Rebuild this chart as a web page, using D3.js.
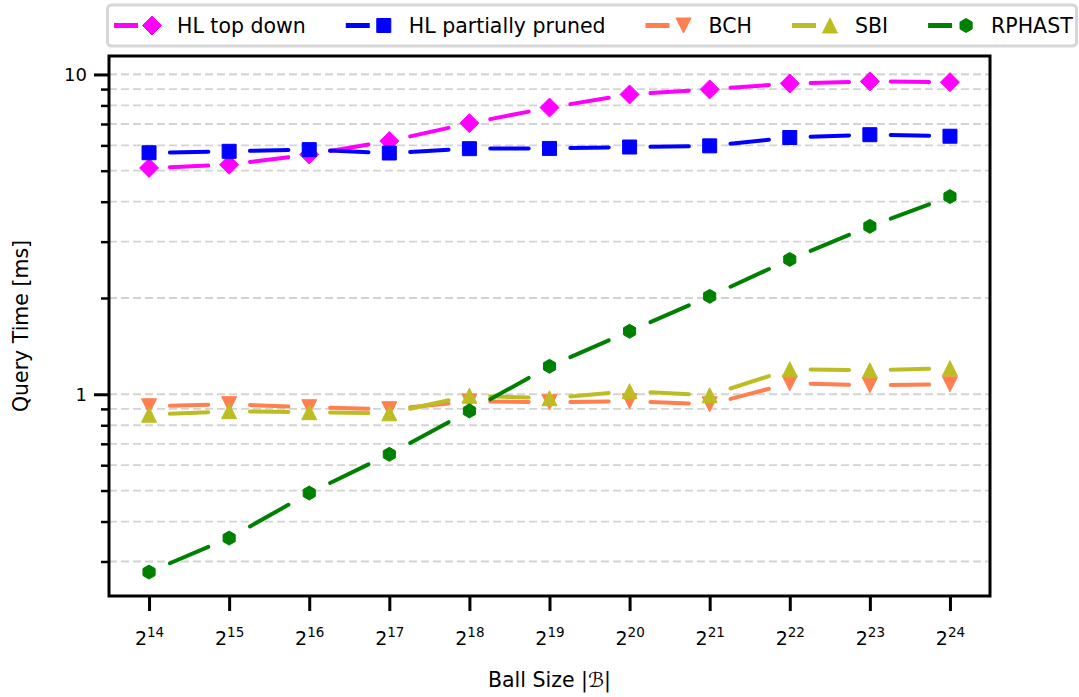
<!DOCTYPE html>
<html>
<head>
<meta charset="utf-8">
<script src="https://cdn.jsdelivr.net/npm/d3@7"></script>
<style>
  body { margin: 0; background: #fff; }
  text { font-family: "DejaVu Sans", sans-serif; fill: #000; }
</style>
</head>
<body>
<svg id="chart" width="1079" height="697"></svg>
<script>
// data (ball size = 2^exponent, query time in ms)
const exponents = [14, 15, 16, 17, 18, 19, 20, 21, 22, 23, 24]
const hlTopDown = [5.10, 5.22, 5.62, 6.19, 7.04, 7.88, 8.66, 8.98, 9.37, 9.51, 9.46]
const hlPartiallyPruned = [5.69, 5.75, 5.82, 5.68, 5.86, 5.87, 5.93, 5.98, 6.35, 6.48, 6.41]
const bch = [0.917, 0.931, 0.911, 0.898, 0.95, 0.944, 0.951, 0.93, 1.082, 1.067, 1.075]
const sbi = [0.863, 0.885, 0.879, 0.872, 0.99, 0.972, 1.022, 0.993, 1.197, 1.188, 1.206]
const rphast = [0.278, 0.355, 0.491, 0.649, 0.887, 1.223, 1.574, 2.024, 2.64, 3.35, 4.15]
const seriesNames = ['HL top down', 'HL partially pruned', 'BCH', 'SBI', 'RPHAST']
const yTickValues = [1, 10]

const series = [
    {name: seriesNames[0], values: hlTopDown, color: '#ff00ff', marker: 'diamond'},
    {name: seriesNames[1], values: hlPartiallyPruned, color: '#0000ff', marker: 'square'},
    {name: seriesNames[2], values: bch, color: '#ff7f50', marker: 'triangleDown'},
    {name: seriesNames[3], values: sbi, color: '#bcbd22', marker: 'triangleUp'},
    {name: seriesNames[4], values: rphast, color: '#008000', marker: 'hexagon'}
]

const width = 1079
const height = 697
const margin = {top: 56, right: 89, bottom: 101, left: 109}

const svg = d3.select('#chart')

const xScale = d3.scaleLinear().domain([13.5, 24.5]).range([margin.left, width - margin.right])
const yScale = d3.scaleLog().domain([0.234, 11.42]).range([height - margin.bottom, margin.top])

// marker shapes
function markerPath(type) {
    let p = d3.path()
    if (type === 'diamond') {
        let r = 9.5
        p.moveTo(0, -r); p.lineTo(r, 0); p.lineTo(0, r); p.lineTo(-r, 0); p.closePath()
    } else if (type === 'square') {
        let s = 7
        p.rect(-s, -s, 2 * s, 2 * s)
    } else if (type === 'triangleDown') {
        let s = 7.5
        p.moveTo(-s, -s); p.lineTo(s, -s); p.lineTo(0, s); p.closePath()
    } else if (type === 'triangleUp') {
        let s = 7.5
        p.moveTo(0, -s); p.lineTo(s, s); p.lineTo(-s, s); p.closePath()
    } else if (type === 'hexagon') {
        let r = 7
        for (let k = 0; k < 6; k++) {
            let a = -Math.PI / 2 + k * Math.PI / 3
            if (k === 0) p.moveTo(r * Math.cos(a), r * Math.sin(a))
            else p.lineTo(r * Math.cos(a), r * Math.sin(a))
        }
        p.closePath()
    }
    return p.toString()
}

// grid lines (major + minor decades)
let gridValues = []
for (let d = 0.1; d <= 10; d *= 10) {
    for (let m = 1; m < 10; m++) {
        let v = +(d * m).toPrecision(3)
        if (v >= 0.234 && v <= 11.42) gridValues.push(v)
    }
}
gridValues.push(10)
svg.append('g').selectAll('line').data(gridValues).enter().append('line')
    .attr('x1', margin.left).attr('x2', width - margin.right)
    .attr('y1', d => yScale(d)).attr('y2', d => yScale(d))
    .attr('stroke', '#d3d3d3').attr('stroke-width', 1.8)
    .attr('stroke-dasharray', '8,4')

// axes
let xAxis = d3.axisBottom(xScale).tickValues(exponents).tickSize(15).tickFormat('')
let gx = svg.append('g').attr('transform', 'translate(0,' + (height - margin.bottom) + ')').call(xAxis)
gx.select('.domain').remove()
gx.selectAll('.tick line').attr('stroke', '#000').attr('stroke-width', 3)
let xLabels = gx.selectAll('.tick').append('text')
    .attr('y', 49).attr('text-anchor', 'middle').attr('font-size', 19)
xLabels.append('tspan').text('2')
xLabels.append('tspan').attr('dy', -8.5).attr('font-size', 13.5).text(d => d)

let yAxisMajor = d3.axisLeft(yScale).tickValues(yTickValues).tickSize(15).tickFormat(d3.format('d'))
let gy = svg.append('g').attr('transform', 'translate(' + margin.left + ',0)').call(yAxisMajor)
gy.select('.domain').remove()
gy.selectAll('.tick line').attr('stroke', '#000').attr('stroke-width', 3)
gy.selectAll('.tick text').attr('font-size', 18).attr('x', -22).attr('fill', '#000')
    .attr('font-family', '"DejaVu Sans", sans-serif')
let minorValues = gridValues.filter(v => yTickValues.indexOf(v) === -1)
let gyMinor = svg.append('g').attr('transform', 'translate(' + margin.left + ',0)')
    .call(d3.axisLeft(yScale).tickValues(minorValues).tickSize(8).tickFormat(''))
gyMinor.select('.domain').remove()
gyMinor.selectAll('.tick line').attr('stroke', '#000').attr('stroke-width', 2.5)

// series: dashed connecting segments then markers
let segStart = 0.26
let segEnd = 0.74
series.forEach(s => {
    let pts = s.values.map((v, i) => [xScale(exponents[i]), yScale(v)])
    let segs = []
    for (let i = 0; i < pts.length - 1; i++) {
        let a = pts[i], b = pts[i + 1]
        segs.push([
            [a[0] + (b[0] - a[0]) * segStart, a[1] + (b[1] - a[1]) * segStart],
            [a[0] + (b[0] - a[0]) * segEnd, a[1] + (b[1] - a[1]) * segEnd]
        ])
    }
    let g = svg.append('g')
    g.selectAll('path.seg').data(segs).enter().append('path')
        .attr('class', 'seg')
        .attr('d', d3.line())
        .attr('stroke', s.color).attr('stroke-width', 4).attr('stroke-linecap', 'round')
        .attr('fill', 'none')
    g.selectAll('path.mark').data(s.values).enter().append('path')
        .attr('class', 'mark')
        .attr('d', markerPath(s.marker))
        .attr('transform', (d, i) => 'translate(' + xScale(exponents[i]) + ',' + yScale(d) + ')')
        .attr('fill', s.color).attr('stroke', s.color).attr('stroke-width', 1)
})

// frame
svg.append('rect')
    .attr('x', margin.left).attr('y', margin.top)
    .attr('width', width - margin.left - margin.right)
    .attr('height', height - margin.top - margin.bottom)
    .attr('fill', 'none').attr('stroke', '#000').attr('stroke-width', 3)

// axis titles
svg.append('text')
    .attr('x', (margin.left + width - margin.right) / 2).attr('y', 687)
    .attr('text-anchor', 'middle').attr('font-size', 20.5)
    .text('Ball Size |ℬ|')
svg.append('text')
    .attr('transform', 'translate(28,' + ((margin.top + height - margin.bottom) / 2) + ') rotate(-90)')
    .attr('text-anchor', 'middle').attr('font-size', 20.5)
    .text('Query Time [ms]')

// legend
let legend = svg.append('g')
legend.append('rect')
    .attr('x', 107.5).attr('y', 5).attr('width', 969).attr('height', 41).attr('rx', 4)
    .attr('fill', '#fff').attr('stroke', '#d6d6d6').attr('stroke-width', 3)
let lx = 114
let ly = 25.5
series.forEach(s => {
    let item = legend.append('g').attr('transform', 'translate(' + lx + ',' + ly + ')')
    item.append('line').attr('x1', 0).attr('x2', 24).attr('y1', 0).attr('y2', 0)
        .attr('stroke', s.color).attr('stroke-width', 5)
    item.append('path').attr('d', markerPath(s.marker))
        .attr('transform', 'translate(38,0)')
        .attr('fill', s.color).attr('stroke', s.color).attr('stroke-width', 1)
    let t = item.append('text').attr('x', 63).attr('y', 7).attr('font-size', 20.5).text(s.name)
    lx += 63 + t.node().getComputedTextLength() + 40
})
</script>
</body>
</html>
